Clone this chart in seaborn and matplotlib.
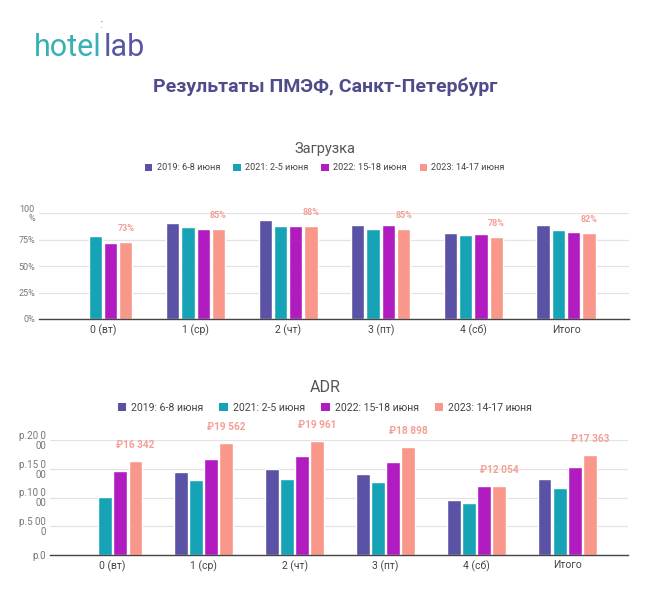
import numpy as np
import pandas as pd
import matplotlib
matplotlib.use("Agg")
import matplotlib.pyplot as plt
from matplotlib.patches import Patch
import seaborn as sns

# ---------------- data ----------------
days = ["0 (вт)", "1 (ср)", "2 (чт)", "3 (пт)", "4 (сб)", "Итого"]
series = ["2019: 6-8 июня", "2021: 2-5 июня", "2022: 15-18 июня", "2023: 14-17 июня"]

occ_2019 = [np.nan, 90.5, 93.8, 89.0, 81.7, 89.0]
occ_2021 = [78.9, 86.8, 88.3, 85.2, 79.8, 83.9]
occ_2022 = [71.6, 84.9, 87.7, 89.3, 80.4, 82.6]
occ_2023 = [72.6, 85.0, 87.7, 85.0, 77.5, 81.6]

adr_2019 = [np.nan, 14460, 14930, 14170, 9500, 13240]
adr_2021 = [10090, 13120, 13290, 12650, 9100, 11600]
adr_2022 = [14640, 16730, 17200, 16150, 12070, 15340]
adr_2023 = [16342, 19562, 19961, 18898, 12054, 17363]

occ_ticks = [0, 25, 50, 75, 100]
occ_tick_labels = ["0%", "25%", "50%", "75%", "100\n%"]
adr_ticks = [0, 5000, 10000, 15000, 20000]
adr_tick_labels = ["р.0", "р.5 00\n0", "р.10 0\n00", "р.15 0\n00", "р.20 0\n00"]

colors = ["#5a52a4", "#17a3b6", "#b11cc1", "#f9978b"]
label_color = "#f3a097"

sns.set_theme(style="white")
plt.rcParams["font.family"] = ["Roboto", "DejaVu Sans"]


def long_df(vals):
    rows = []
    for s, v in zip(series, vals):
        for d, x in zip(days, v):
            rows.append({"day": d, "series": s, "value": x})
    return pd.DataFrame(rows)


occ_df = long_df([occ_2019, occ_2021, occ_2022, occ_2023])
adr_df = long_df([adr_2019, adr_2021, adr_2022, adr_2023])

fig = plt.figure(figsize=(6.49, 6.00), dpi=100)
fig.patch.set_facecolor("white")

W, H = 649.0, 600.0


def fx(px):
    return px / W


def fy(py):
    return 1 - py / H


# ---------------- header (logo) ----------------
renderer = fig.canvas.get_renderer()
t1 = fig.text(fx(34), fy(48), "hotel", color="#35b1b5", fontsize=22,
              ha="left", va="center")
bb = t1.get_window_extent(renderer=renderer)
x_next = (bb.x1 + 1.5) / (W)
t2 = fig.text(x_next, fy(48), "lab", color="#5b56a3", fontsize=22,
              ha="left", va="center")
fig.text(x_next - fx(1.5), fy(22), "•", color="#5b56a3", fontsize=4, ha="center", va="center")
fig.text(x_next - fx(1.5), fy(28), "•", color="#5b56a3", fontsize=3, ha="center", va="center")

fig.text(fx(325), fy(87), "Результаты ПМЭФ, Санкт-Петербург", color="#4f4c8c",
         fontsize=14, fontweight="bold", ha="center", va="center")


def style_axes(ax, ticks, ticklabels, ylim, tick_fs):
    ax.set_ylim(*ylim)
    ax.set_yticks(ticks)
    ax.set_yticklabels(ticklabels, fontsize=tick_fs, color="#777777", linespacing=0.95)
    ax.tick_params(axis="y", length=0, pad=3)
    ax.tick_params(axis="x", length=0, pad=4, labelsize=7.5, labelcolor="#444444")
    ax.set_xlabel("")
    ax.set_ylabel("")
    ax.grid(axis="y", color="#e3e3e3", linewidth=0.9)
    ax.set_axisbelow(True)
    for s in ["left", "right", "top"]:
        ax.spines[s].set_visible(False)
    ax.spines["bottom"].set_color("#444444")
    ax.spines["bottom"].set_linewidth(1.0)
    ax.set_facecolor("white")


# ---------------- occupancy ----------------
ax1 = fig.add_axes([fx(39), fy(319), fx(629) - fx(39), fy(213.3) - fy(319)])
sns.barplot(data=occ_df, x="day", y="value", hue="series", hue_order=series,
            palette=colors, width=0.66, gap=0.13, legend=False, ax=ax1,
            saturation=1, errorbar=None)
ax1.set_xlim(-0.69, 5.68)
style_axes(ax1, occ_ticks, occ_tick_labels, (0, 100), 6.5)
for bar, v in zip(ax1.containers[3], occ_2023):
    ax1.annotate(f"{v:.0f}%", xy=(bar.get_x() + bar.get_width() / 2, v),
                 xytext=(0, 9.7), textcoords="offset points", ha="center", va="center",
                 fontsize=6.5, color=label_color, fontweight="bold", annotation_clip=False)

fig.text(fx(325), fy(149), "Загрузка", color="#555555", fontsize=10.5,
         ha="center", va="center")
handles = [Patch(facecolor=c, edgecolor="none") for c in colors]
fig.legend(handles, series, loc="center", bbox_to_anchor=(fx(325), fy(168)),
           ncol=4, frameon=False, fontsize=6.6, handlelength=0.8, handleheight=0.8,
           handletextpad=0.5, columnspacing=1.4, labelcolor="#444444")

# ---------------- ADR ----------------
ax2 = fig.add_axes([fx(50), fy(554.7), fx(628) - fx(50), fy(440.3) - fy(554.7)])
sns.barplot(data=adr_df, x="day", y="value", hue="series", hue_order=series,
            palette=colors, width=0.66, gap=0.13, legend=False, ax=ax2,
            saturation=1, errorbar=None)
ax2.set_xlim(-0.687, 5.665)
style_axes(ax2, adr_ticks, adr_tick_labels, (0, 20000), 7)
for bar, v in zip(ax2.containers[3], adr_2023):
    lab = "₽" + f"{v:,.0f}".replace(",", " ")
    ax2.annotate(lab, xy=(bar.get_x() + bar.get_width() / 2, v),
                 xytext=(0, 11.5), textcoords="offset points", ha="center", va="center",
                 fontsize=7.3, color=label_color, fontweight="bold", annotation_clip=False)

fig.text(fx(325), fy(388), "ADR", color="#555555", fontsize=11.5,
         ha="center", va="center")
fig.legend(handles, series, loc="center", bbox_to_anchor=(fx(325), fy(408)),
           ncol=4, frameon=False, fontsize=7.6, handlelength=0.8, handleheight=0.8,
           handletextpad=0.5, columnspacing=1.5, labelcolor="#444444")

fig.savefig("out.png", dpi=100, facecolor="white")
